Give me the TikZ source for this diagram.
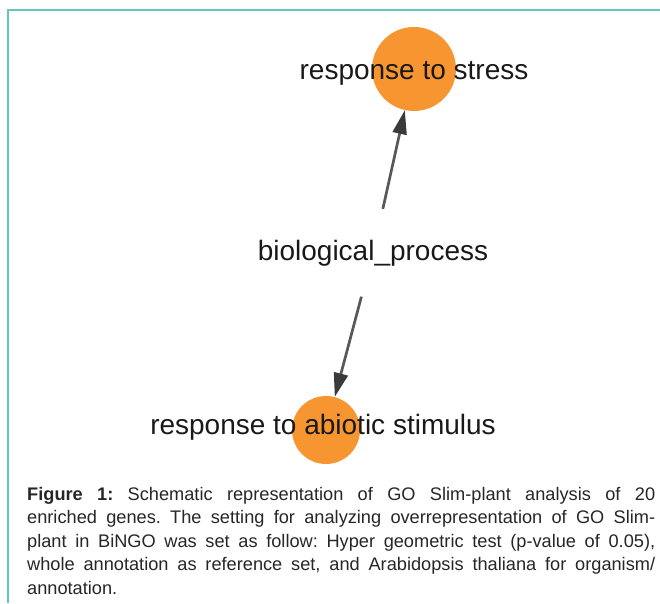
\documentclass[tikz,border=0pt]{standalone}
\usepackage{fontspec}
\setmainfont{Liberation Sans}
\usetikzlibrary{positioning,arrows.meta}
\definecolor{goorange}{RGB}{247,150,48}
\definecolor{frameteal}{RGB}{96,202,186}
\definecolor{edgegray}{RGB}{88,88,88}
\definecolor{tipgray}{RGB}{58,58,58}
\frenchspacing

\begin{document}
\begin{tikzpicture}[x=1pt,y=1pt,on grid]
	\tikzstyle{term}=[circle, fill=goorange, inner sep=0pt]
	\tikzstyle{termlabel}=[font=\fontsize{28}{34}\selectfont, text=black!90, inner sep=0pt]
	\tikzstyle{isa}=[line width=2.7pt, draw=edgegray, -{Triangle[length=24pt, width=14pt, color=tipgray]}]
	\tikzstyle{caption}=[text width=628pt, align=justify, inner sep=0pt, text=black!85, font=\fontsize{18.2}{23.5}\selectfont]
	\useasboundingbox (0,0) rectangle (660,603);
	\draw[frameteal, line width=2pt] (660,593) -- (8,593) -- (8,0);
		\node[circle, minimum size=90pt, inner sep=0pt, label={[termlabel]center:biological\_process}] (bio) at (373,350) {};
		\node[term, minimum size=84pt, label={[termlabel, yshift=-4pt]center:response to stress}] (stress) [above right=184pt and 41pt of bio] {};
		\node[term, minimum size=68pt, label={[termlabel, xshift=-3pt, yshift=3pt]center:response to abiotic stimulus}] (abiotic) [below left=177pt and 47pt of bio] {};
			\draw[isa] (bio) -- (stress);
			\draw[isa] (bio) -- (abiotic);
		\node[caption, anchor=base west] (legend) at (27,103) {\textbf{Figure 1:} Schematic representation of GO Slim-plant analysis of 20\linebreak enriched genes. The setting for analyzing overrepresentation of GO Slim-\linebreak plant in BiNGO was set as follow: Hyper geometric test (p-value of 0.05),\linebreak whole annotation as reference set, and Arabidopsis thaliana for organism/\linebreak annotation.};
\end{tikzpicture}
\end{document}
